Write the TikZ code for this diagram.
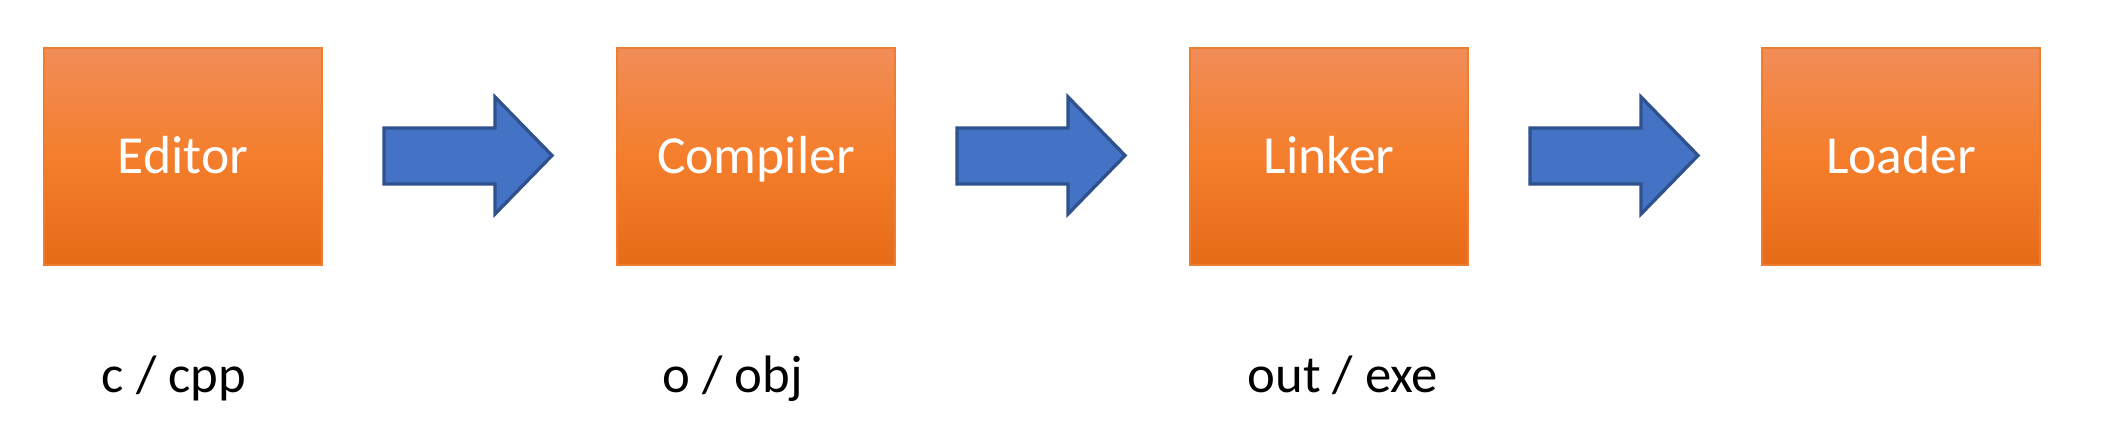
\documentclass[tikz,border=0pt]{standalone}
\usepackage{fontspec}
\setmainfont{Carlito}
\definecolor{boxtop}{HTML}{F18D58}
\definecolor{boxmid}{HTML}{F47E2C}
\definecolor{boxbot}{HTML}{E66B17}
\definecolor{boxline}{HTML}{ED7D31}
\definecolor{arrfill}{HTML}{4472C4}
\definecolor{arrline}{HTML}{2F528F}
\tikzset{
  stagebox/.style={draw=boxline, line width=1.2pt, top color=boxtop, bottom color=boxbot, middle color=boxmid,
    minimum width=5.56cm, minimum height=4.34cm, inner sep=0pt, text=white,
    text height=19.6pt, text depth=0pt,
    font=\fontsize{30.5}{36}\selectfont},
  blockarrow/.style={draw=arrline, fill=arrfill, line width=1.9pt, line join=miter},
  filelabel/.style={anchor=base, text=black, inner sep=0pt, font=\fontsize{30}{36}\selectfont}
}
\begin{document}
\begin{tikzpicture}[x=0.02cm,y=-0.02cm]
\useasboundingbox (0,0) rectangle (2112,446);
\node[stagebox] (editor) at (183,156.5) {Editor};
\node[stagebox] (compiler) at (756,156.5) {Compiler};
\node[stagebox] (linker) at (1329,156.5) {Linker};
\node[stagebox] (loader) at (1901,156.5) {Loader};
\foreach \dx [count=\i] in {0,573,1146}{
  \draw[blockarrow] (384+\dx,128) -- (495+\dx,128) -- (495+\dx,97) -- (552+\dx,155.5) -- (495+\dx,214) -- (495+\dx,184) -- (384+\dx,184) -- cycle;
}
\node[filelabel] (src) at (174,392) {c / cpp};
\node[filelabel] (obj) at (733,392) {o / obj};
\node[filelabel] (exe) at (1343,392) {out / exe};
\end{tikzpicture}
\end{document}
